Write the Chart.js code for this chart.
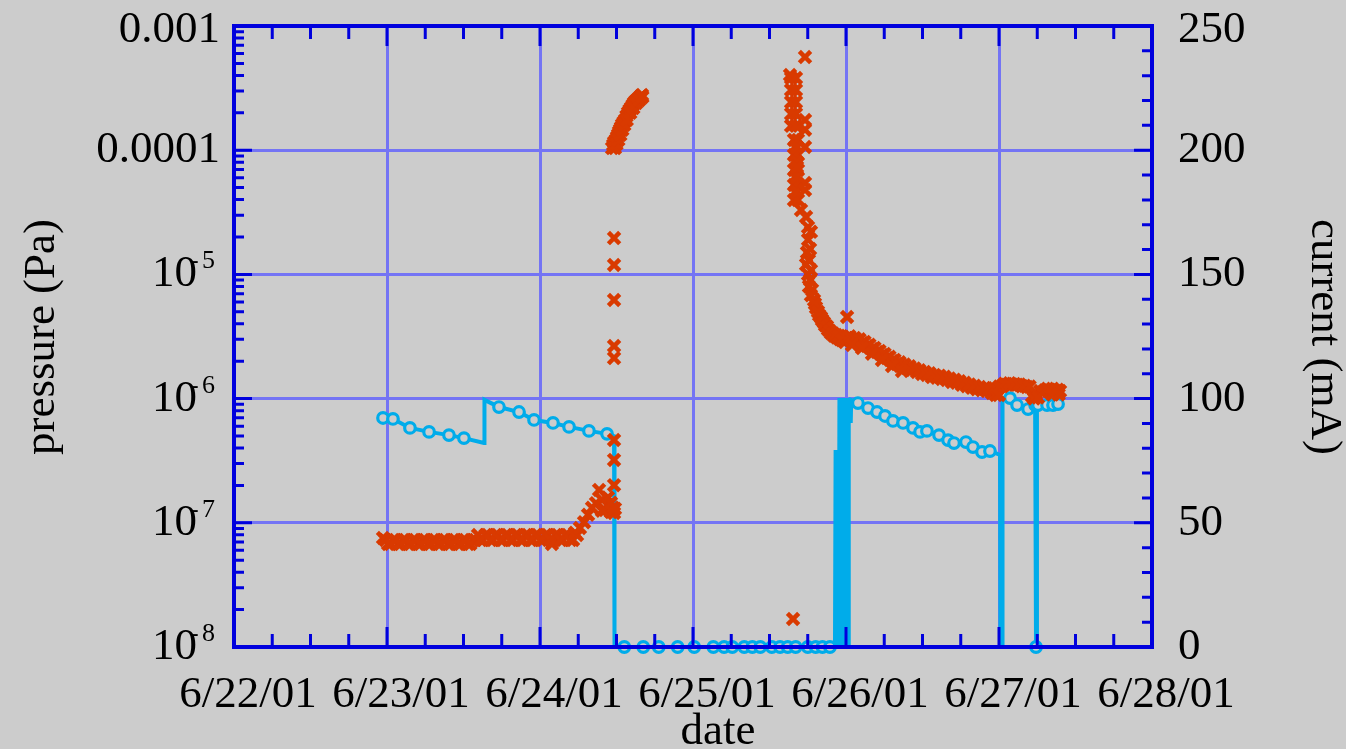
<!DOCTYPE html>
<html>
<head>
<meta charset="utf-8">
<script src="https://cdn.jsdelivr.net/npm/chart.js@4.4.1/dist/chart.umd.min.js"></script>
<style>
  html, body { margin: 0; padding: 0; background: #cccccc; }
  #box { width: 1346px; height: 749px; }
</style>
</head>
<body>
<div id="box"><canvas id="grafico"></canvas></div>
<script>
// eixo x: dias contados a partir de 6/22/01 00:00
const dayLabels = ['6/22/01', '6/23/01', '6/24/01', '6/25/01', '6/26/01', '6/27/01', '6/28/01'];
const pressureTicks = [1e-8, 1e-7, 1e-6, 1e-5, 1e-4, 1e-3];
const currentTicks = [0, 50, 100, 150, 200, 250];

// pressao (Pa)
const pressureTime = [
  0.974, 1.007, 1.040, 1.073, 1.105, 1.138, 1.170, 1.203, 1.235, 1.268, 1.300, 1.333, 1.366, 1.399, 1.431, 1.464, 1.497, 1.529, 1.562,
  0.990, 1.023, 1.056, 1.089, 1.121, 1.154, 1.186, 1.219, 1.251, 1.284, 1.316, 1.349, 1.382, 1.415, 1.447, 1.480, 1.513, 1.545, 1.578,
  1.595, 1.627, 1.660, 1.693, 1.725, 1.758, 1.791, 1.824, 1.856, 1.889, 1.922, 1.954, 1.987, 2.020, 2.052, 2.078, 2.085, 2.118, 2.150, 2.183, 2.216, 2.242,
  1.611, 1.644, 1.676, 1.709, 1.742, 1.775, 1.807, 1.840, 1.873, 1.905, 1.938, 1.971, 2.003, 2.036, 2.069, 2.101, 2.134, 2.167, 2.199, 2.229,
  2.261, 2.288, 2.314, 2.340, 2.366, 2.386, 2.405, 2.425, 2.444, 2.464, 2.477, 2.484,
  2.405, 2.444, 2.464, 2.490,
  2.484, 2.484, 2.484, 2.484, 2.484, 2.484, 2.484, 2.484,
  2.471, 2.478, 2.484, 2.490, 2.497, 2.503, 2.510, 2.516, 2.523, 2.529, 2.536, 2.546, 2.556, 2.565, 2.575, 2.585, 2.595, 2.605, 2.614, 2.624, 2.634, 2.644, 2.654, 2.660, 2.667,
  2.490, 2.500, 2.512, 2.525, 2.538, 2.551, 2.567, 2.590, 2.610, 2.629, 2.649, 2.669,
  3.654,
  3.634, 3.641, 3.673, 3.641, 3.673, 3.641, 3.673, 3.641, 3.673, 3.641, 3.673,
  3.660, 3.686, 3.660, 3.686, 3.660, 3.686, 3.660, 3.686, 3.660, 3.686,
  3.667, 3.680, 3.667, 3.680, 3.667, 3.680, 3.667, 3.680,
  3.706, 3.739, 3.752, 3.771, 3.752, 3.765, 3.758, 3.771, 3.765, 3.778, 3.791, 3.804, 3.824, 3.843, 3.863, 3.882, 3.902, 3.922, 3.941, 3.961, 3.980, 3.993,
  3.745, 3.739, 3.752, 3.758, 3.771, 3.797, 3.817, 3.837, 3.856, 3.876, 3.895, 3.915, 3.935, 3.954, 3.974,
  3.732, 3.732, 3.732, 3.732, 3.680, 3.732, 3.732, 4.007,
  4.007, 4.039, 4.072, 4.105, 4.137, 4.170, 4.203, 4.235, 4.268, 4.301, 4.333, 4.366, 4.399, 4.431, 4.464, 4.497, 4.529, 4.562, 4.595, 4.627,
  4.660, 4.693, 4.725, 4.758, 4.791, 4.824, 4.856, 4.889, 4.922, 4.954, 4.987, 5.020, 5.052, 5.085, 5.118, 5.150, 5.183, 5.216, 5.242, 5.268,
  5.301, 5.333, 5.366, 5.399,
  4.023, 4.056, 4.088, 4.121, 4.153, 4.186, 4.219, 4.252, 4.284, 4.317, 4.350, 4.382, 4.415, 4.448, 4.480,
  4.513, 4.546, 4.578, 4.611, 4.644, 4.676, 4.709, 4.742, 4.775, 4.807, 4.840, 4.873, 4.905, 4.938, 4.970,
  5.003, 5.036, 5.069, 5.101, 5.134, 5.167, 5.200, 5.285, 5.317, 5.350, 5.383,
  4.039, 4.105, 4.170, 4.235, 4.301, 4.366, 4.980, 5.000, 5.229, 5.255, 5.350, 5.390
];
const pressureValue = [
  7.55e-8, 6.75e-8, 7.27e-8, 6.75e-8, 7.27e-8, 6.75e-8, 7.27e-8, 6.75e-8, 7.27e-8, 6.75e-8, 7.27e-8, 6.75e-8, 7.27e-8, 6.75e-8, 7.27e-8, 6.75e-8, 7.27e-8, 6.75e-8, 7.27e-8,
  7.27e-8, 6.75e-8, 7.27e-8, 6.75e-8, 7.27e-8, 6.75e-8, 7.27e-8, 6.75e-8, 7.27e-8, 6.75e-8, 7.27e-8, 6.75e-8, 7.27e-8, 6.75e-8, 7.27e-8, 6.75e-8, 7.27e-8, 6.75e-8, 7.27e-8,
  7.98e-8, 7.27e-8, 7.98e-8, 7.27e-8, 7.98e-8, 7.27e-8, 7.98e-8, 7.27e-8, 7.98e-8, 7.27e-8, 7.98e-8, 7.27e-8, 7.98e-8, 7.27e-8, 7.98e-8, 6.75e-8, 7.27e-8, 7.98e-8, 7.27e-8, 7.98e-8, 7.27e-8, 7.98e-8,
  7.27e-8, 7.98e-8, 7.27e-8, 7.98e-8, 7.27e-8, 7.98e-8, 7.27e-8, 7.98e-8, 7.27e-8, 7.98e-8, 7.27e-8, 7.98e-8, 7.27e-8, 7.98e-8, 7.27e-8, 7.98e-8, 7.27e-8, 7.98e-8, 7.27e-8, 8.3e-8,
  9.08e-8, 1.01e-7, 1.16e-7, 1.32e-7, 1.44e-7, 1.84e-7, 1.53e-7, 1.27e-7, 1.39e-7, 1.22e-7, 1.32e-7, 1.20e-7,
  1.25e-7, 1.60e-7, 1.45e-7, 1.30e-7,
  2.01e-7, 3.21e-7, 4.64e-7, 2.12e-6, 2.65e-6, 6.22e-6, 1.19e-5, 1.96e-5,
  1.04e-4, 1.10e-4, 1.16e-4, 1.12e-4, 1.21e-4, 1.27e-4, 1.33e-4, 1.40e-4, 1.46e-4, 1.52e-4, 1.60e-4, 1.68e-4, 1.75e-4, 1.88e-4, 2.00e-4, 2.10e-4, 2.19e-4, 2.30e-4, 2.40e-4, 2.47e-4, 2.54e-4, 2.61e-4, 2.68e-4, 2.73e-4, 2.78e-4,
  1.04e-4, 1.12e-4, 1.21e-4, 1.33e-4, 1.46e-4, 1.60e-4, 1.75e-4, 2.00e-4, 2.19e-4, 2.40e-4, 2.54e-4, 2.68e-4,
  1.68e-8,
  4.03e-4, 3.81e-4, 3.81e-4, 3.05e-4, 3.05e-4, 2.44e-4, 2.44e-4, 1.96e-4, 1.96e-4, 1.57e-4, 1.57e-4,
  1.21e-4, 1.21e-4, 9.15e-5, 9.15e-5, 6.93e-5, 6.93e-5, 5.25e-5, 5.25e-5, 3.97e-5, 3.97e-5,
  1.06e-4, 1.06e-4, 8.04e-5, 8.04e-5, 6.09e-5, 6.09e-5, 4.61e-5, 4.61e-5,
  3.3e-5, 2.9e-5, 2.4e-5, 2.2e-5, 1.9e-5, 1.6e-5, 1.3e-5, 1.08e-5, 9.0e-6, 7.5e-6, 6.2e-6, 5.4e-6, 4.7e-6, 4.3e-6, 3.9e-6, 3.6e-6, 3.37e-6, 3.2e-6, 3.1e-6, 3.0e-6, 3.15e-6, 2.85e-6,
  1.5e-5, 1.2e-5, 1.0e-5, 8.0e-6, 6.8e-6, 5.8e-6, 5.0e-6, 4.5e-6, 4.1e-6, 3.8e-6, 3.5e-6, 3.35e-6, 3.25e-6, 3.2e-6, 2.95e-6,
  5.62e-4, 1.75e-4, 1.46e-4, 1.06e-4, 7.32e-5, 5.44e-5, 4.78e-5, 4.54e-6,
  3.08e-6, 2.96e-6, 2.91e-6, 2.80e-6, 2.65e-6, 2.51e-6, 2.37e-6, 2.24e-6, 2.12e-6, 2.01e-6, 1.90e-6, 1.83e-6, 1.76e-6, 1.70e-6, 1.64e-6, 1.58e-6, 1.55e-6, 1.49e-6, 1.47e-6, 1.44e-6,
  1.41e-6, 1.36e-6, 1.34e-6, 1.29e-6, 1.26e-6, 1.22e-6, 1.19e-6, 1.17e-6, 1.15e-6, 1.11e-6, 1.19e-6, 1.26e-6, 1.29e-6, 1.29e-6, 1.29e-6, 1.26e-6, 1.24e-6, 1.05e-6, 1.09e-6, 1.15e-6,
  1.17e-6, 1.17e-6, 1.15e-6, 1.15e-6,
  3.17e-6, 3.08e-6, 3.00e-6, 2.86e-6, 2.71e-6, 2.56e-6, 2.42e-6, 2.29e-6, 2.17e-6, 2.05e-6, 1.96e-6, 1.88e-6, 1.82e-6, 1.75e-6, 1.69e-6,
  1.64e-6, 1.60e-6, 1.55e-6, 1.53e-6, 1.50e-6, 1.45e-6, 1.42e-6, 1.38e-6, 1.34e-6, 1.30e-6, 1.27e-6, 1.24e-6, 1.22e-6, 1.19e-6, 1.21e-6,
  1.25e-6, 1.32e-6, 1.33e-6, 1.31e-6, 1.30e-6, 1.27e-6, 1.25e-6, 1.12e-6, 1.20e-6, 1.20e-6, 1.18e-6,
  2.70e-6, 2.55e-6, 2.30e-6, 2.05e-6, 1.83e-6, 1.67e-6, 1.07e-6, 1.07e-6, 1.00e-6, 1.02e-6, 1.08e-6, 1.08e-6
];

// corrente do feixe (mA)
const currentTime = [
  0.974, 1.039, 1.150, 1.275, 1.405, 1.503, 1.634, 1.637, 1.732, 1.863, 1.961, 2.085, 2.190, 2.320, 2.438, 2.484,
  2.487, 2.551, 2.675, 2.776, 2.900, 3.008, 3.133, 3.203, 3.257, 3.335, 3.388, 3.440, 3.515, 3.569, 3.619, 3.671, 3.750, 3.802, 3.846, 3.895, 3.928,
  3.932, 3.950, 3.953, 3.957, 3.966, 3.969, 3.974, 3.977, 3.990, 3.993, 3.997, 4.012, 4.015, 4.018, 4.028, 4.031, 4.034,
  4.078, 4.144, 4.203, 4.255, 4.307, 4.373, 4.438, 4.484, 4.529, 4.608, 4.667, 4.706, 4.784, 4.830, 4.889, 4.941, 5.007,
  5.010, 5.020, 5.023, 5.072, 5.118, 5.190, 5.236, 5.242, 5.248, 5.255, 5.314, 5.353, 5.386
];
const currentValue = [
  92.2, 91.8, 88.2, 86.6, 85.3, 84.1, 82.1, 99.5, 96.6, 94.6, 91.4, 90.2, 88.6, 87.0, 85.8, 84.9,
  0, 0, 0, 0, 0, 0, 0, 0, 0, 0, 0, 0, 0, 0, 0, 0, 0, 0, 0, 0, 0,
  78.5, 78.5, 0, 99.4, 99.4, 0, 0, 99.4, 99.4, 0, 99.4, 99.4, 0, 99.4, 99.4, 90.2, 99.4,
  98.2, 96.2, 94.6, 93.0, 91.0, 90.2, 88.2, 86.6, 87.0, 85.3, 83.3, 82.1, 82.5, 80.5, 78.5, 78.9, 77.3,
  0, 0, 100.2, 100.2, 97.4, 95.8, 97.4, 0, 97.4, 97.4, 97.4, 97.4, 97.8
];

const corPressao = '#d93a00';
const corCorrente = '#00acea';
const corEixo = '#0000dd';
const corGrade = '#7474f4';
const fonte = '"Liberation Serif", "Times New Roman", serif';

const xTickValues = [];
for (let q = 0; q <= 24; q++) xTickValues.push(q / 4);
const yTickValues = [];
pressureTicks.forEach((d, i) => {
  yTickValues.push(d);
  if (i < pressureTicks.length - 1) for (let m = 2; m <= 9; m++) yTickValues.push(m * d);
});
const y2TickValues = [];
for (let v = 0; v <= 250; v += 10) y2TickValues.push(v);

const isDecade = v => Math.abs(Math.log10(v) - Math.round(Math.log10(v))) < 1e-6;

// esconde o circulo nos pontos de subida/descida vertical
function raioCorrente(ctx) {
  const i = ctx.dataIndex;
  if (i === undefined) return 5.3;
  const ingreme = j => j >= 0 && j < currentTime.length &&
    Math.abs(currentTime[j] - currentTime[i]) < 0.006 && Math.abs(currentValue[j] - currentValue[i]) > 5;
  return (ingreme(i - 1) || ingreme(i + 1)) ? 0 : 5.3;
}

const molduraPlugin = {
  id: 'moldura',
  afterDraw(chart) {
    const { ctx, chartArea: a } = chart;
    const { x, y, y2 } = chart.scales;
    ctx.save();
    ctx.strokeStyle = corEixo;
    ctx.lineWidth = 3;
    ctx.beginPath();
    xTickValues.forEach(v => {
      const px = x.getPixelForValue(v);
      const len = Number.isInteger(v) ? 20 : 13;
      ctx.moveTo(px, a.bottom); ctx.lineTo(px, a.bottom - len);
      ctx.moveTo(px, a.top); ctx.lineTo(px, a.top + len);
    });
    yTickValues.forEach(v => {
      const py = y.getPixelForValue(v);
      ctx.moveTo(a.left, py); ctx.lineTo(a.left + (isDecade(v) ? 18 : 10), py);
    });
    y2TickValues.forEach(v => {
      const py = y2.getPixelForValue(v);
      ctx.moveTo(a.right, py); ctx.lineTo(a.right - (v % 50 === 0 ? 18 : 10), py);
    });
    ctx.stroke();
    ctx.lineWidth = 4;
    ctx.strokeRect(a.left, a.top, a.right - a.left, a.bottom - a.top);

    // rotulos
    ctx.fillStyle = '#000';
    ctx.textBaseline = 'alphabetic';
    ctx.font = '45px ' + fonte;
    ctx.textAlign = 'center';
    dayLabels.forEach((lab, i) => ctx.fillText(lab, x.getPixelForValue(i) + 14, 707));

    pressureTicks.forEach((v, i) => {
      const base = y.getPixelForValue(v) + (i === pressureTicks.length - 1 ? 16 : 12);
      const exp = Math.round(Math.log10(v));
      ctx.font = '45px ' + fonte;
      ctx.textAlign = 'right';
      if (exp >= -4) {
        ctx.fillText(String(v), 220, base);
      } else {
        ctx.fillText('10', 197, base);
        ctx.font = '26px ' + fonte;
        ctx.textAlign = 'left';
        ctx.fillText('-', 190, base - 18);
        ctx.fillText(String(-exp), 202, base - 18);
      }
    });

    ctx.font = '45px ' + fonte;
    ctx.textAlign = 'left';
    currentTicks.forEach((v, i) => {
      const base = y2.getPixelForValue(v) + (i === currentTicks.length - 1 ? 16 : 12);
      ctx.fillText(String(v), 1178, base);
    });

    ctx.textAlign = 'center';
    ctx.fillText('date', 718, 744);
    ctx.textBaseline = 'middle';
    ctx.save();
    ctx.translate(42, 337);
    ctx.rotate(-Math.PI / 2);
    ctx.fillText('pressure (Pa)', 0, 0);
    ctx.restore();
    ctx.save();
    ctx.translate(1324, 337);
    ctx.rotate(Math.PI / 2);
    ctx.fillText('current (mA)', 0, 0);
    ctx.restore();
    ctx.restore();
  }
};

const ctxGrafico = document.getElementById('grafico').getContext('2d');
const grafico = new Chart(ctxGrafico, {
  type: 'scatter',
  data: {
    datasets: [{
      label: 'pressure (Pa)',
      data: pressureTime.map((t, i) => ({ x: t, y: pressureValue[i] })),
      yAxisID: 'y',
      showLine: false,
      pointStyle: 'crossRot',
      pointRadius: 8,
      pointBorderWidth: 4.5,
      borderColor: corPressao,
      backgroundColor: corPressao,
      order: 0
    }, {
      label: 'current (mA)',
      data: currentTime.map((t, i) => ({ x: t, y: currentValue[i] })),
      yAxisID: 'y2',
      showLine: true,
      borderColor: corCorrente,
      borderWidth: 4,
      pointStyle: 'circle',
      pointRadius: raioCorrente,
      pointBorderWidth: 3.2,
      pointBorderColor: corCorrente,
      pointBackgroundColor: '#cccccc',
      tension: 0,
      clip: false,
      order: 1
    }]
  },
  options: {
    responsive: true,
    maintainAspectRatio: false,
    animation: false,
    layout: { padding: { top: 26, left: 0, right: 0, bottom: 0 } },
    plugins: { legend: { display: false }, tooltip: { enabled: false } },
    scales: {
      x: {
        type: 'linear', position: 'bottom', min: 0, max: 6,
        afterBuildTicks: s => { s.ticks = xTickValues.map(v => ({ value: v })); },
        afterFit: s => { s.height = 102; },
        ticks: { display: false },
        grid: {
          color: c => (c.tick && Number.isInteger(c.tick.value)) ? corGrade : 'rgba(0,0,0,0)',
          lineWidth: 3, drawTicks: false
        },
        border: { display: false }
      },
      y: {
        type: 'logarithmic', position: 'left', min: 1e-8, max: 1e-3,
        afterBuildTicks: s => { s.ticks = yTickValues.map(v => ({ value: v })); },
        afterFit: s => { s.width = 234; },
        ticks: { display: false },
        grid: {
          color: c => (c.tick && isDecade(c.tick.value)) ? corGrade : 'rgba(0,0,0,0)',
          lineWidth: 3, drawTicks: false
        },
        border: { display: false }
      },
      y2: {
        type: 'linear', position: 'right', min: 0, max: 250,
        afterBuildTicks: s => { s.ticks = y2TickValues.map(v => ({ value: v })); },
        afterFit: s => { s.width = 194; },
        ticks: { display: false },
        grid: { drawOnChartArea: false, drawTicks: false },
        border: { display: false }
      }
    }
  },
  plugins: [molduraPlugin]
});
</script>
</body>
</html>
